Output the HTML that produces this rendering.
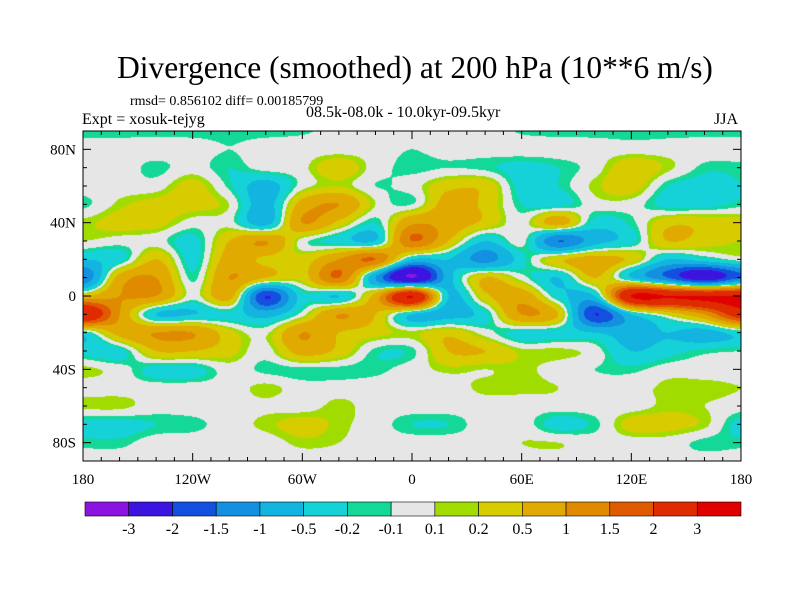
<!DOCTYPE html>
<html><head><meta charset="utf-8">
<style>
body{margin:0;background:#fff;}
#wrap{position:relative;width:800px;height:600px;overflow:hidden;font-family:"Liberation Serif",serif;color:#000;}
.t{position:absolute;white-space:nowrap;}
</style></head>
<body>
<div id="wrap">
<div class="t" style="left:15px;width:800px;text-align:center;top:50px;font-size:31.4px;">Divergence (smoothed) at 200 hPa (10**6 m/s)</div>
<div class="t" style="left:130px;top:94px;font-size:14px;">rmsd= 0.856102 diff= 0.00185799</div>
<div class="t" style="left:306px;top:104px;font-size:16px;">08.5k-08.0k - 10.0kyr-09.5kyr</div>
<div class="t" style="left:82px;top:111px;font-size:16px;">Expt = xosuk-tejyg</div>
<div class="t" style="left:714px;top:111px;font-size:16px;">JJA</div>
<canvas id="map" width="658" height="330" style="position:absolute;left:83px;top:131px;"></canvas>
<svg id="ov" width="800" height="600" style="position:absolute;left:0;top:0;"></svg>
</div>
<script>
const lonTicks=[-180,-120,-60,0,60,120,180];
const lonLabels=["180","120W","60W","0","60E","120E","180"];
const latTicks=[80,40,0,-40,-80];
const latLabels=["80N","40N","0","40S","80S"];
const levels=[-3,-2,-1.5,-1,-0.5,-0.2,-0.1,0.1,0.2,0.5,1,1.5,2,3];
const levelLabels=["-3","-2","-1.5","-1","-0.5","-0.2","-0.1","0.1","0.2","0.5","1","1.5","2","3"];
const colors=["#8c14e0","#3c14e0","#1450e0","#1490e0","#14b4e0","#14d2d8","#14d898","#e6e6e6","#a0dc00","#d6cc00","#e0aa00","#e08a00","#e05a00","#e02a00","#e00000"];
const gridLons=[-180,-160,-140,-120,-100,-80,-60,-40,-20,0,20,40,60,80,100,120,140,160,180];
const gridLats=[90,80,70,60,50,40,30,20,10,0,-10,-20,-30,-40,-50,-60,-70,-80,-90];
const r90=[-0.15,-0.15,-0.15,-0.15,-0.15,-0.15,-0.12,-0.05,0,0,0,0,-0.12,-0.15,-0.15,-0.15,-0.15,-0.15,-0.15];
const r80=[0,0,0,0,-0.1,0,0,0,0,-0.1,0,0,0,0,0,0,0,0,0];
const r70=[0,0,-0.15,0,-0.2,0,0.05,0.4,0,-0.15,-0.1,-0.15,-0.3,-0.2,0,0.4,0.15,-0.15,-0.15];
const r60=[0,0,0,0.3,-0.15,-0.7,0,0.2,-0.1,0,0.4,0.4,-0.3,-0.2,0.15,0.35,-0.2,-0.3,-0.2];
const r50=[-0.15,0.15,0.3,0.3,0.1,-0.7,0.7,1.0,0.1,-0.1,0.7,0.4,-0.2,-0.3,0,0,-0.3,-0.3,-0.15];
const r40=[0.15,0.3,0.3,0,0,-0.7,1.0,0.4,-0.2,0.9,0.8,0.4,0,0.7,-0.3,-0.15,0.4,0.4,0.3];
const r30=[0.1,0,0,-0.3,0.5,1.0,0,-0.3,-0.5,1.5,0.5,-0.5,0,-1.5,-0.7,-0.3,0.5,0.3,0.2];
const r20=[-0.5,-0.3,0.5,-0.3,0.7,0.4,0.3,1.0,1.5,-0.5,-0.5,-1.2,-0.3,0.4,0.7,0.4,-0.5,-0.3,0];
const r10=[-1.5,0.7,1.0,-0.15,1.0,0.5,0.3,1.5,-1.0,-3,-0.7,0.5,0,-0.5,0.5,-0.5,-1.5,-2.5,-1.5];
const r0=[0.5,1.0,1.0,0,0.7,-2,-0.3,-0.5,0.7,3,-0.5,0.4,0.8,-0.3,-0.5,3,3,3,3];
const rS10=[3,1.0,-0.5,-0.5,-0.3,-0.7,0,1.0,0.5,-0.5,-0.7,-0.3,1.0,0.5,-2,-0.5,0.2,1.0,2.5];
const rS20=[-0.3,0.7,1.0,1.0,0.3,0.05,1.0,0.5,0.3,0.15,0.4,0,-0.3,-0.3,-0.5,-0.7,-0.5,-0.7,-0.3];
const rS30=[-0.3,-0.3,0.5,0.5,0.3,0,0.7,0.4,-0.15,-0.15,0.5,0.5,0.15,0.15,0,-0.5,-0.3,-0.15,-0.1];
const rS40=[0.15,0,-0.3,-0.3,0,-0.15,-0.15,-0.15,-0.15,0,0.15,0.1,0.15,0,-0.1,-0.15,0,0,0];
const rS50=[0,0,0,0,0,0.15,0,0,0,0,0,0.15,0.15,0.1,0,0,0.15,0.15,0.1];
const rS60=[0.15,0.15,0,0,0,0.05,0,0.15,0,0,0,0,0,0,0,0,0.15,0.1,0];
const rS70=[-0.3,-0.3,-0.2,-0.15,0,0.15,0.3,0.15,0,-0.2,-0.2,0,0,-0.3,-0.15,0.3,0.3,0.15,-0.3];
const rS80=[-0.15,-0.15,0,0,0,0,0.15,0.1,0,0,0,0,0.1,0.1,0,0,0,-0.15,-0.15];
const rS90=[0,0,0,0,0,0,0,0,0,0,0,0,0,0,0,0,0,0,0];
const field=[r90,r80,r70,r60,r50,r40,r30,r20,r10,r0,rS10,rS20,rS30,rS40,rS50,rS60,rS70,rS80,rS90];

const MX=83,MY=131,MW=658,MH=330;
function xOf(lon){return MX+(lon+180)/360*MW;}
function yOf(lat){return MY+(90-lat)/180*MH;}
function colorIdx(v){let i=0;while(i<levels.length&&v>=levels[i])i++;return i;}
function hex(c){return [parseInt(c.substr(1,2),16),parseInt(c.substr(3,2),16),parseInt(c.substr(5,2),16)];}
function cr(p0,p1,p2,p3,t){return 0.5*(2*p1+(-p0+p2)*t+(2*p0-5*p1+4*p2-p3)*t*t+(-p0+3*p1-3*p2+p3)*t*t*t);}
function g(r,c){r=Math.max(0,Math.min(field.length-1,r));c=Math.max(0,Math.min(gridLons.length-1,c));return field[r][c];}
function sample(lon,lat){
  const fc=(lon-gridLons[0])/20, fr=(gridLats[0]-lat)/10;
  const c=Math.floor(fc), r=Math.floor(fr), tc=fc-c, tr=fr-r;
  const rows=[];
  for(let k=-1;k<=2;k++)rows.push(cr(g(r+k,c-1),g(r+k,c),g(r+k,c+1),g(r+k,c+2),tc));
  return cr(rows[0],rows[1],rows[2],rows[3],tr);
}
const cv=document.getElementById('map');const ctx=cv.getContext('2d');
const img=ctx.createImageData(MW,MH);const rgb=colors.map(hex);
for(let y=0;y<MH;y++){const lat=90-(y+0.5)/MH*180;
  for(let x=0;x<MW;x++){const lon=-180+(x+0.5)/MW*360;
    const col=rgb[colorIdx(sample(lon,lat))];const o=(y*MW+x)*4;
    img.data[o]=col[0];img.data[o+1]=col[1];img.data[o+2]=col[2];img.data[o+3]=255;}}
ctx.putImageData(img,0,0);

const NS='http://www.w3.org/2000/svg';const ov=document.getElementById('ov');
function el(tag,attrs){const e=document.createElementNS(NS,tag);for(const k in attrs)e.setAttribute(k,attrs[k]);ov.appendChild(e);return e;}
const frame=el('rect',{x:MX,y:MY,width:MW,height:MH,fill:'none',stroke:'#000','stroke-width':1});


for(let lon=-180;lon<=180;lon+=10){const big=lon%60===0;const L=big?8:4;
  el('line',{x1:xOf(lon),x2:xOf(lon),y1:MY,y2:MY+L,stroke:'#000'});
  el('line',{x1:xOf(lon),x2:xOf(lon),y1:MY+MH,y2:MY+MH-L,stroke:'#000'});}
for(let lat=-90;lat<=90;lat+=10){const big=lat%40===0;const L=big?8:4;
  el('line',{x1:MX,x2:MX+L,y1:yOf(lat),y2:yOf(lat),stroke:'#000'});
  el('line',{x1:MX+MW,x2:MX+MW-L,y1:yOf(lat),y2:yOf(lat),stroke:'#000'});}
lonTicks.forEach((lon,i)=>{const t=el('text',{x:xOf(lon),y:484,'text-anchor':'middle','font-size':15,'font-family':'Liberation Serif, serif'});
  t.textContent=lonLabels[i];
  
  });
latTicks.forEach((lat,i)=>{const t=el('text',{x:76,y:yOf(lat)+5,'text-anchor':'end','font-size':15,'font-family':'Liberation Serif, serif'});
  t.textContent=latLabels[i];
  
  });
const CX=85,CY=502,CW=656,CH=14,bw=CW/colors.length;
colors.forEach((c,i)=>{const r=el('rect',{x:CX+i*bw,y:CY,width:bw,height:CH,fill:c,stroke:'#000','stroke-width':0.6});
  
  });
levelLabels.forEach((s,i)=>{const t=el('text',{x:CX+(i+1)*bw,y:534,'text-anchor':'middle','font-size':16,'font-family':'Liberation Serif, serif'});
  t.textContent=s;
  
  });
</script>
</body></html>
